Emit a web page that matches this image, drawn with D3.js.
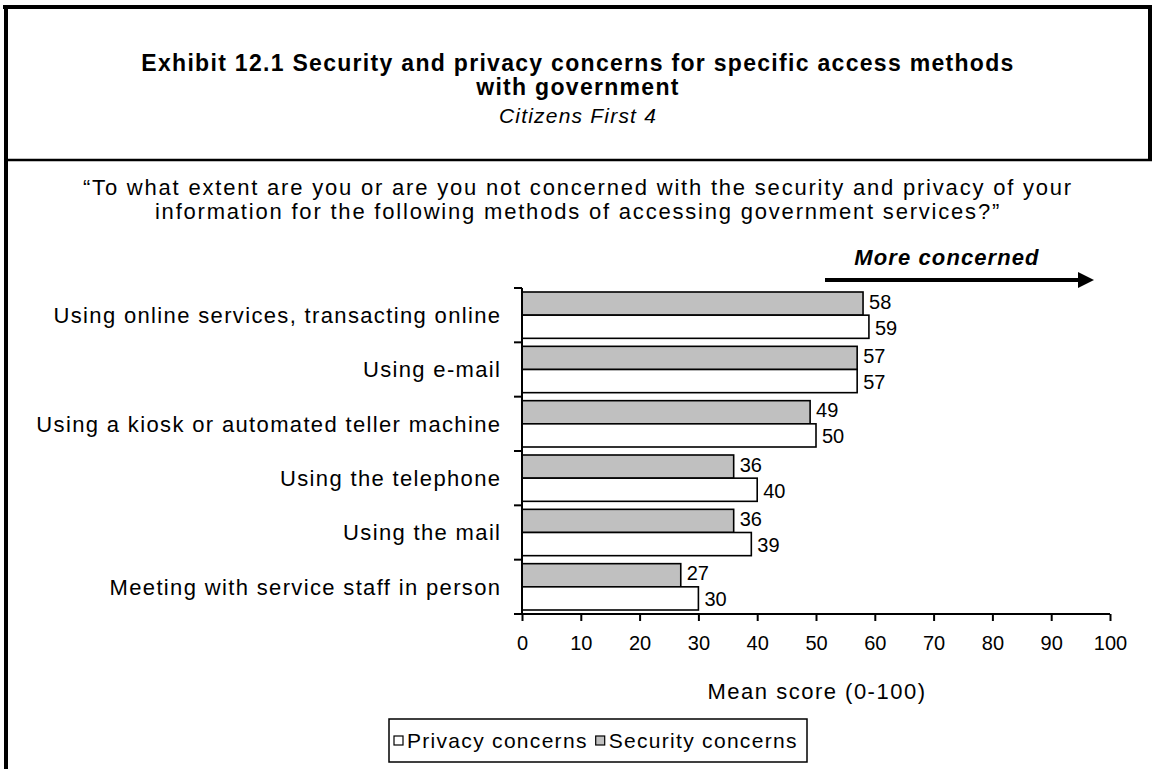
<!DOCTYPE html>
<html>
<head>
<meta charset="utf-8">
<script src="https://cdn.jsdelivr.net/npm/d3@7"></script>
<style>
  html, body { margin: 0; padding: 0; background: #fff; }
  svg text { font-family: Arial, "Liberation Sans", Helvetica, sans-serif; fill: #000; }
</style>
</head>
<body>
<svg id="chart" width="1156" height="769"></svg>
<script>
// Access methods, top to bottom
const categories = [
  "Using online services, transacting online",
  "Using e-mail",
  "Using a kiosk or automated teller machine",
  "Using the telephone",
  "Using the mail",
  "Meeting with service staff in person"
];
// Mean scores (0-100)
const securityValues = [58, 57, 49, 36, 36, 27];
const privacyValues  = [59, 57, 50, 40, 39, 30];
const xTicks = [0, 10, 20, 30, 40, 50, 60, 70, 80, 90, 100];

const seriesNames = ["Security concerns", "Privacy concerns"];
const seriesFill = { "Security concerns": "#c0c0c0", "Privacy concerns": "#ffffff" };
const legendOrder = ["Privacy concerns", "Security concerns"];

const rows = categories.map((c, i) => ({
  category: c,
  "Security concerns": securityValues[i],
  "Privacy concerns": privacyValues[i]
}));

const svg = d3.select("#chart");
const W = 1156, H = 769;
const plot = { left: 522, right: 1110, top: 288, bottom: 614 };
const LS = 1.35; // letter spacing of the category labels

// Frame of the exhibit
const frame = svg.append("g").attr("stroke", "#000").attr("fill", "none");
frame.append("line").attr("x1", 3).attr("x2", 1152).attr("y1", 7).attr("y2", 7).attr("stroke-width", 4);
frame.append("line").attr("x1", 6).attr("x2", 6).attr("y1", 5).attr("y2", H).attr("stroke-width", 4);
frame.append("line").attr("x1", 1150).attr("x2", 1150).attr("y1", 5).attr("y2", 161).attr("stroke-width", 4);
frame.append("line").attr("x1", 4).attr("x2", 1152).attr("y1", 160).attr("y2", 160).attr("stroke-width", 2.5);

// Heading
const head = svg.append("g").attr("text-anchor", "middle");
head.append("text").attr("x", 578).attr("y", 71).attr("font-size", 23).attr("font-weight", "bold")
  .attr("letter-spacing", 1.3)
  .text("Exhibit 12.1 Security and privacy concerns for specific access methods");
head.append("text").attr("x", 578).attr("y", 95).attr("font-size", 23).attr("font-weight", "bold")
  .attr("letter-spacing", 1.3)
  .text("with government");
head.append("text").attr("x", 578).attr("y", 123).attr("font-size", 21).attr("font-style", "italic")
  .attr("letter-spacing", 1.2)
  .text("Citizens First 4");

// Question wording
const q = svg.append("g").attr("text-anchor", "middle").attr("font-size", 22).attr("letter-spacing", 1.8);
q.append("text").attr("x", 578).attr("y", 195)
  .text("\u201CTo what extent are you or are you not concerned with the security and privacy of your");
q.append("text").attr("x", 578).attr("y", 219)
  .text("information for the following methods of accessing government services?\u201D");

// Scales
const x = d3.scaleLinear().domain([0, 100]).range([plot.left, plot.right]);
const y = d3.scaleBand().domain(categories).range([plot.top, plot.bottom]).padding(0);
const inner = d3.scaleBand().domain(seriesNames).range([4, y.bandwidth() - 4]).padding(0);

// Bars
const groups = svg.append("g").selectAll("g").data(rows).join("g")
  .attr("transform", d => `translate(0,${y(d.category)})`);

groups.selectAll("rect").data(d => seriesNames.map(s => ({ s, v: d[s] }))).join("rect")
  .attr("x", x(0))
  .attr("y", d => inner(d.s))
  .attr("width", d => x(d.v) - x(0))
  .attr("height", inner.bandwidth())
  .attr("fill", d => seriesFill[d.s])
  .attr("stroke", "#000")
  .attr("stroke-width", 1.6);

groups.selectAll("text.val").data(d => seriesNames.map(s => ({ s, v: d[s] }))).join("text")
  .attr("class", "val")
  .attr("x", d => x(d.v) + 6)
  .attr("y", d => inner(d.s) + inner.bandwidth() / 2 + (d.s === "Security concerns" ? -2 : 1))
  .attr("dy", "0.35em")
  .attr("font-size", 20)
  .text(d => d.v);

// Y axis (category ticks at band boundaries)
const yAxisG = svg.append("g").attr("transform", `translate(${plot.left},0)`);
yAxisG.append("line").attr("x1", 0).attr("x2", 0).attr("y1", plot.top).attr("y2", plot.bottom)
  .attr("stroke", "#000").attr("stroke-width", 2);
const bounds = categories.map(c => y(c)).concat([plot.bottom]);
yAxisG.selectAll("line.tk").data(bounds).join("line").attr("class", "tk")
  .attr("x1", -8).attr("x2", 0).attr("y1", d => d).attr("y2", d => d)
  .attr("stroke", "#000").attr("stroke-width", 2);
yAxisG.selectAll("text").data(categories).join("text")
  .attr("x", -22 + LS).attr("y", d => y(d) + y.bandwidth() / 2).attr("dy", "0.35em")
  .attr("text-anchor", "end").attr("font-size", 22).attr("letter-spacing", LS)
  .text(d => d);

// X axis
const xAxis = d3.axisBottom(x).tickValues(xTicks).tickSize(7).tickPadding(15).tickFormat(d3.format("d"));
const xAxisG = svg.append("g").attr("transform", `translate(0,${plot.bottom})`).call(xAxis);
xAxisG.select(".domain").attr("stroke", "#000").attr("stroke-width", 2).attr("d", `M${plot.left},0H${plot.right}`);
xAxisG.selectAll(".tick line").attr("stroke", "#000").attr("stroke-width", 2);
xAxisG.selectAll(".tick text").attr("font-size", 20).attr("font-family", "Arial, 'Liberation Sans', sans-serif").attr("fill", "#000");

svg.append("text").attr("x", (plot.left + plot.right) / 2 + 1).attr("y", 699)
  .attr("text-anchor", "middle").attr("font-size", 22).attr("letter-spacing", 1.5).text("Mean score (0-100)");

// Direction cue
svg.append("text").attr("x", 947).attr("y", 265).attr("text-anchor", "middle")
  .attr("font-size", 22).attr("font-weight", "bold").attr("font-style", "italic").attr("letter-spacing", 1.1)
  .text("More concerned");
svg.append("line").attr("x1", 825).attr("x2", 1080).attr("y1", 280).attr("y2", 280)
  .attr("stroke", "#000").attr("stroke-width", 4);
svg.append("path")
  .attr("d", "M1078,272 L1094,280 L1078,288 Z").attr("fill", "#000");

// Legend
const lg = svg.append("g");
lg.append("rect").attr("x", 389).attr("y", 719).attr("width", 418).attr("height", 43)
  .attr("fill", "#fff").attr("stroke", "#000").attr("stroke-width", 1.5);
let lx = 394;
legendOrder.forEach(s => {
  lg.append("rect").attr("x", lx).attr("y", 736).attr("width", 9).attr("height", 9)
    .attr("fill", seriesFill[s]).attr("stroke", "#000").attr("stroke-width", 1.2);
  const t = lg.append("text").attr("x", lx + 13).attr("y", 741).attr("dy", "0.35em")
    .attr("font-size", 21).attr("letter-spacing", 1.3).text(s);
  lx += 13 + t.node().getComputedTextLength() + 8;
});
</script>
</body>
</html>
